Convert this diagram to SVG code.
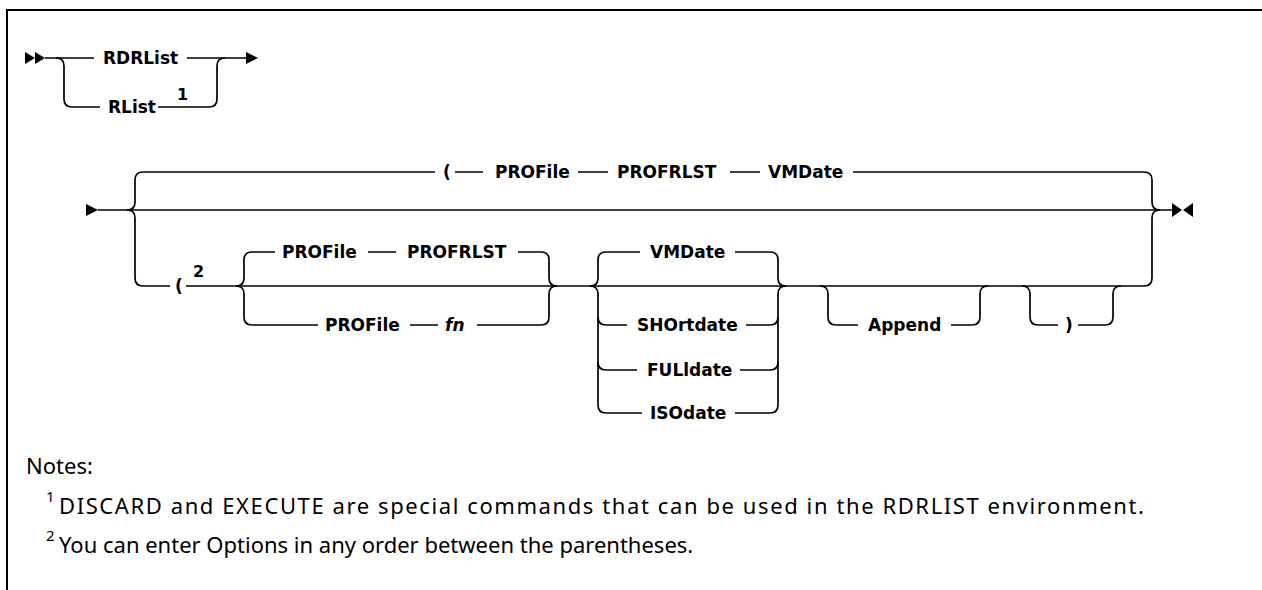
<svg xmlns="http://www.w3.org/2000/svg" width="1262" height="590" viewBox="0 0 1262 590">
<style>
.ln{fill:none;stroke:#000;stroke-width:1.7}
.mk{fill:#000}
.lb{font-family:"DejaVu Sans",sans-serif;font-weight:bold;font-size:17px;fill:#000}
.it{font-style:italic}
.sp{font-family:"DejaVu Sans",sans-serif;font-weight:bold;font-size:16px;fill:#000}
.nt{font-family:"Noto Sans","Liberation Sans",sans-serif;font-size:22px;fill:#000}
.ns{font-family:"Noto Sans","Liberation Sans",sans-serif;font-size:15px;fill:#000}
</style>
<rect width="1262" height="590" fill="#fff"/>
<path d="M7,591 V10 H1263" fill="none" stroke="#000" stroke-width="2"/>
<g id="connectors">
<polygon class="mk" points="25,52 35,58 25,64"/>
<polygon class="mk" points="35,52 45,58 35,64"/>
<path class="ln" d="M45,58 H94"/>
<path class="ln" d="M56,58 Q64,58 64,66 V99 Q64,107 72,107 H100"/>
<path class="ln" d="M187,58 H247"/>
<path class="ln" d="M158,107 H209 Q217,107 217,99 V66 Q217,58 225,58"/>
<polygon class="mk" points="246,52 258,58 246,64"/>
<polygon class="mk" points="86,204 98,210 86,216"/>
<path class="ln" d="M98,210 H1172"/>
<polygon class="mk" points="1172,203 1182,210 1172,217"/>
<polygon class="mk" points="1193,203 1183,210 1193,217"/>
<path class="ln" d="M127,210 Q135,210 135,202 V180 Q135,172 143,172 H435"/>
<path class="ln" d="M455,172 H483 M578,172 H608 M730,172 H760"/>
<path class="ln" d="M853,172 H1144 Q1152,172 1152,180 V202 Q1152,210 1160,210"/>
<path class="ln" d="M127,210 Q135,210 135,218 V278 Q135,286 143,286 H170"/>
<path class="ln" d="M186,286 H1144 Q1152,286 1152,278 V218 Q1152,210 1160,210"/>
<path class="ln" d="M236,286 Q244,286 244,278 V260 Q244,252 252,252 H275 M368,252 H396 M518,252 H541 Q549,252 549,260 V278 Q549,286 557,286"/>
<path class="ln" d="M236,286 Q244,286 244,294 V317 Q244,325 252,325 H318 M410,325 H438 M477,325 H541 Q549,325 549,317 V294 Q549,286 557,286"/>
<path class="ln" d="M590,286 Q598,286 598,278 V260 Q598,252 606,252 H640 M735,252 H770 Q778,252 778,260 V278 Q778,286 786,286"/>
<path class="ln" d="M590,286 Q598,286 598,294 V405 Q598,413 606,413 H642 M735,413 H770 Q778,413 778,405 V294 Q778,286 786,286"/>
<path class="ln" d="M598,317 Q598,325 606,325 H627 M746,325 H770 Q778,325 778,317"/>
<path class="ln" d="M598,362 Q598,370 606,370 H637 M740,370 H770 Q778,370 778,362"/>
<path class="ln" d="M820,286 Q828,286 828,294 V317 Q828,325 836,325 H858 M951,325 H972 Q980,325 980,317 V294 Q980,286 988,286"/>
<path class="ln" d="M1022,286 Q1030,286 1030,294 V317 Q1030,325 1038,325 H1058 M1078,325 H1105 Q1113,325 1113,317 V294 Q1113,286 1121,286"/>
</g>
<g id="n-rdrlist"><text class="lb" x="103" y="64">RDRList</text></g>
<g id="n-rlist"><text class="lb" x="108" y="113">RList</text><text class="sp" x="177" y="100">1</text></g>
<g id="n-top-paren"><text class="lb" x="443" y="178">(</text></g>
<g id="n-top-profile"><text class="lb" x="495" y="178">PROFile</text></g>
<g id="n-top-profrlst"><text class="lb" x="617" y="178">PROFRLST</text></g>
<g id="n-top-vmdate"><text class="lb" x="768" y="178">VMDate</text></g>
<g id="n-paren2"><text class="lb" x="175" y="292">(</text><text class="sp" x="193" y="277">2</text></g>
<g id="n-profile1"><text class="lb" x="282" y="258">PROFile</text></g>
<g id="n-profrlst"><text class="lb" x="407" y="258">PROFRLST</text></g>
<g id="n-profile2"><text class="lb" x="325" y="331">PROFile</text></g>
<g id="n-fn"><text class="lb it" x="445" y="331">fn</text></g>
<g id="n-vmdate"><text class="lb" x="650" y="258">VMDate</text></g>
<g id="n-shortdate"><text class="lb" x="637" y="331">SHOrtdate</text></g>
<g id="n-fulldate"><text class="lb" x="647" y="376">FULldate</text></g>
<g id="n-isodate"><text class="lb" x="650" y="419">ISOdate</text></g>
<g id="n-append"><text class="lb" x="868" y="331">Append</text></g>
<g id="n-rparen"><text class="lb" x="1065" y="331">)</text></g>
<g id="notes">
<text class="nt" x="26" y="474">Notes:</text>
<text class="ns" x="46" y="502">1</text>
<text class="nt" x="59" y="514" textLength="1085">DISCARD and EXECUTE are special commands that can be used in the RDRLIST environment.</text>
<text class="ns" x="46" y="541">2</text>
<text class="nt" x="59" y="553">You can enter Options in any order between the parentheses.</text>
</g>
</svg>
